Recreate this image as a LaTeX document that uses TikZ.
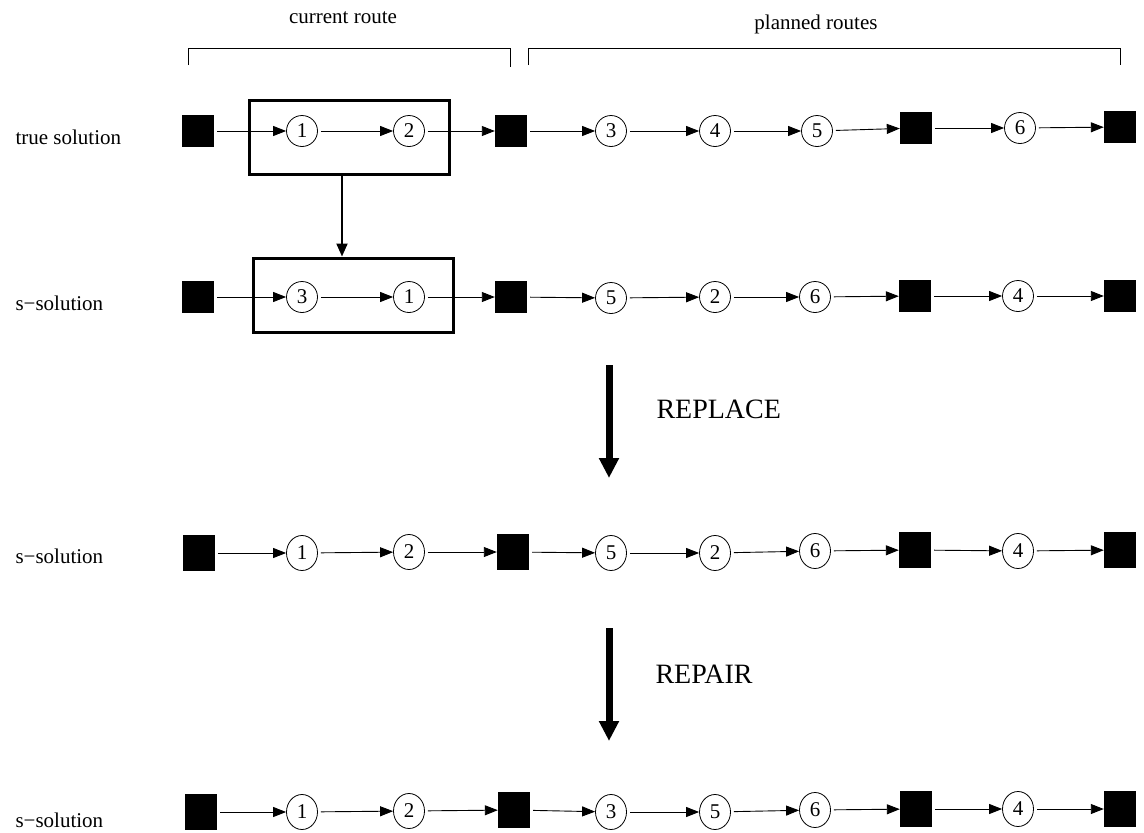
\documentclass[tikz,border=0pt]{standalone}
\usepackage{fontspec}
\setmainfont{Liberation Serif}
\usetikzlibrary{arrows.meta,shapes.geometric}
\begin{document}
\begin{tikzpicture}[x=1pt,y=-1pt,
  depot/.style={fill=black,draw=none,minimum width=32pt,minimum height=32pt,inner sep=0pt},
  depotT/.style={depot,minimum height=36pt},
  cust/.style={circle,draw,line width=0.8pt,minimum size=31pt,inner sep=0pt,font=\fontsize{21}{21}\selectfont},
  custT/.style={ellipse,draw,line width=0.8pt,minimum width=31pt,minimum height=35pt,inner sep=0pt,font=\fontsize{21}{21}\selectfont},
  link/.style={-{Triangle[length=13pt,width=10pt]},line width=0.9pt,shorten <=3pt},
  lbl/.style={font=\fontsize{21}{21}\selectfont},
  big/.style={font=\fontsize{28}{28}\selectfont},
  bigarrow/.style={line width=7pt,-{Triangle[length=20pt,width=19pt]}},
  routebox/.style={draw,line width=3pt,minimum width=200pt,minimum height=74pt,inner sep=0pt}
]
\useasboundingbox (0,0) rectangle (1144,833);

% headers and brackets
\node[lbl,anchor=base] (hcur) at (343,23) {current route};
\node[lbl,anchor=base] (hplan) at (816,29) {planned routes};
\draw[line width=1pt] (188,65) -- (188,48) -- (510,48) -- (510,67);
\draw[line width=1pt] (528,65) -- (528,48) -- (1120,48) -- (1120,65);

% row labels
\node[lbl,anchor=base west] (l1) at (12,144) {true solution};
\node[lbl,anchor=base west] (l2) at (12,310) {s−solution};
\node[lbl,anchor=base west] (l3) at (12,563) {s−solution};
\node[lbl,anchor=base west] (l4) at (12,827) {s−solution};

% row 1
\node[routebox] (box1) at (349,137) {};
\node[depot] (a0) at (198,131) {};
\node[cust] (a1) at (302,131) {1};
\node[cust] (a2) at (409,131) {2};
\node[depot] (a3) at (511,131) {};
\node[cust] (a4) at (611,131) {3};
\node[cust] (a5) at (715,131) {4};
\node[cust] (a6) at (817,131) {5};
\node[depot] (a7) at (916,128) {};
\node[cust] (a8) at (1020,128) {6};
\node[depot] (a9) at (1120,127) {};
\foreach \i/\j in {a0/a1,a1/a2,a2/a3,a3/a4,a4/a5,a5/a6,a6/a7,a7/a8,a8/a9}
  \draw[link] (\i) -- (\j);

% row 2
\node[routebox] (box2) at (353,295) {};
\node[depot] (b0) at (198,297) {};
\node[cust] (b1) at (302,297) {3};
\node[cust] (b2) at (409,297) {1};
\node[depot] (b3) at (511,297) {};
\node[cust] (b4) at (611,298) {5};
\node[cust] (b5) at (715,297) {2};
\node[cust] (b6) at (815,297) {6};
\node[depot] (b7) at (915,296) {};
\node[cust] (b8) at (1018,296) {4};
\node[depot] (b9) at (1120,296) {};
\foreach \i/\j in {b0/b1,b1/b2,b2/b3,b3/b4,b4/b5,b5/b6,b6/b7,b7/b8,b8/b9}
  \draw[link] (\i) -- (\j);

\draw[line width=2pt,-{Triangle[length=13pt,width=11pt]}] ([xshift=-7pt]box1.south) -- ([xshift=-11pt]box2.north);

% REPLACE
\coordinate (p1) at (609,365);
\coordinate (p2) at (609,478);
\draw[bigarrow] (p1) -- (p2);
\node[big,anchor=base west] (rep) at (653,418) {REPLACE};

% row 3
\node[depotT] (c0) at (199,553) {};
\node[custT] (c1) at (302,553) {1};
\node[custT] (c2) at (409,552) {2};
\node[depotT] (c3) at (513,552) {};
\node[custT] (c4) at (611,553) {5};
\node[custT] (c5) at (715,553) {2};
\node[custT] (c6) at (815,551) {6};
\node[depotT] (c7) at (915,550) {};
\node[custT] (c8) at (1018,551) {4};
\node[depotT] (c9) at (1120,550) {};
\foreach \i/\j in {c0/c1,c1/c2,c2/c3,c3/c4,c4/c5,c5/c6,c6/c7,c7/c8,c8/c9}
  \draw[link] (\i) -- (\j);

% REPAIR
\coordinate (q1) at (609,628);
\coordinate (q2) at (609,741);
\draw[bigarrow] (q1) -- (q2);
\node[big,anchor=base west] (rpr) at (652,683) {REPAIR};

% row 4
\node[depotT] (d0) at (201,812) {};
\node[custT] (d1) at (302,812) {1};
\node[custT] (d2) at (409,811) {2};
\node[depotT] (d3) at (514,810) {};
\node[custT] (d4) at (611,812) {3};
\node[custT] (d5) at (715,812) {5};
\node[custT] (d6) at (815,810) {6};
\node[depotT] (d7) at (916,809) {};
\node[custT] (d8) at (1018,809) {4};
\node[depotT] (d9) at (1120,809) {};
\foreach \i/\j in {d0/d1,d1/d2,d2/d3,d3/d4,d4/d5,d5/d6,d6/d7,d7/d8,d8/d9}
  \draw[link] (\i) -- (\j);
\end{tikzpicture}
\end{document}
